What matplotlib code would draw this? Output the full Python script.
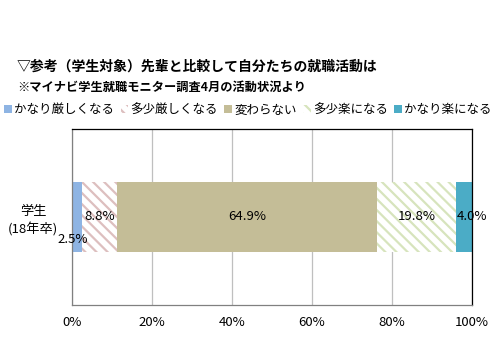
import matplotlib
matplotlib.use("Agg")
import matplotlib.pyplot as plt
from matplotlib.patches import Patch

plt.rcParams['font.family'] = ['Noto Sans CJK JP', 'DejaVu Sans']
plt.rcParams['hatch.linewidth'] = 1.6

categories = ['学生\n(18年卒)']
series = ['かなり厳しくなる', '多少厳しくなる', '変わらない', '多少楽になる', 'かなり楽になる']
values = [2.5, 8.8, 64.9, 19.8, 4.0]
labels = ['2.5%', '8.8%', '64.9%', '19.8%', '4.0%']
xticks = [0, 20, 40, 60, 80, 100]
xticklabels = ['0%', '20%', '40%', '60%', '80%', '100%']

faces = ['#8EB4E3', 'white', '#C4BD97', 'white', '#4BACC6']
hatchcols = ['#8EB4E3', '#DDBFBF', '#C4BD97', '#D7E4BD', '#4BACC6']
hatches = [None, '\\\\\\', None, '\\\\\\', None]

fig = plt.figure(figsize=(5.0, 3.46), dpi=100)
ax = fig.add_axes([72/500, 1-305/346, 400/500, 176/346])

left = 0
handles = []
for v, s, fc, hc, h in zip(values, series, faces, hatchcols, hatches):
    ax.barh(0, v, left=left, height=0.4, color=fc, edgecolor=hc,
            hatch=h, linewidth=0, zorder=2)
    handles.append(Patch(facecolor=fc, edgecolor=hc, hatch=h, linewidth=0))
    left += v

# value labels
starts = [sum(values[:i]) for i in range(len(values))]
ax.text(starts[0] + values[0]/2 - 1.0, -0.13, labels[0], ha='center', va='center', fontsize=9.5, zorder=3)
ax.text(starts[1] + values[1]/2, 0, labels[1], ha='center', va='center', fontsize=9.5, zorder=3)
ax.text(starts[2] + values[2]/2, 0, labels[2], ha='center', va='center', fontsize=9.5, zorder=3)
ax.text(starts[3] + values[3]/2, 0, labels[3], ha='center', va='center', fontsize=9.5, zorder=3)
ax.text(starts[4] + values[4]/2 + 2.0, 0, labels[4], ha='center', va='center', fontsize=9.5, zorder=3)

ax.set_xlim(0, 100)
ax.set_ylim(-0.5, 0.5)
ax.set_xticks(xticks)
ax.set_xticklabels(xticklabels, fontsize=9.5)
ax.set_yticks([0])
ax.set_yticklabels(categories, fontsize=9.5, linespacing=1.45, multialignment='center')
ax.tick_params(length=0, pad=8)
ax.tick_params(axis='y', pad=10)
ax.xaxis.grid(True, color='#BFBFBF', linewidth=0.9, zorder=0)
ax.set_axisbelow(True)
ax.spines['top'].set_color('black')
ax.spines['right'].set_color('black')
ax.spines['left'].set_color('#808080')
ax.spines['bottom'].set_color('#808080')
for sp in ax.spines.values():
    sp.set_linewidth(0.9)

fig.text(17/500, 1-67/346, '▽参考（学生対象）先輩と比較して自分たちの就職活動は',
         fontsize=10, fontweight='bold', va='center', ha='left')
fig.text(17/500, 1-87/346, '※マイナビ学生就職モニター調査4月の活動状況より',
         fontsize=8.8, fontweight='bold', va='center', ha='left')

fig.legend(handles, series, loc='center', bbox_to_anchor=(248/500, 1-110/346),
           ncol=5, frameon=False, fontsize=9, handlelength=0.6, handleheight=0.6,
           handletextpad=0.2, columnspacing=0.5, borderpad=0)

fig.savefig('out.png', dpi=100)
